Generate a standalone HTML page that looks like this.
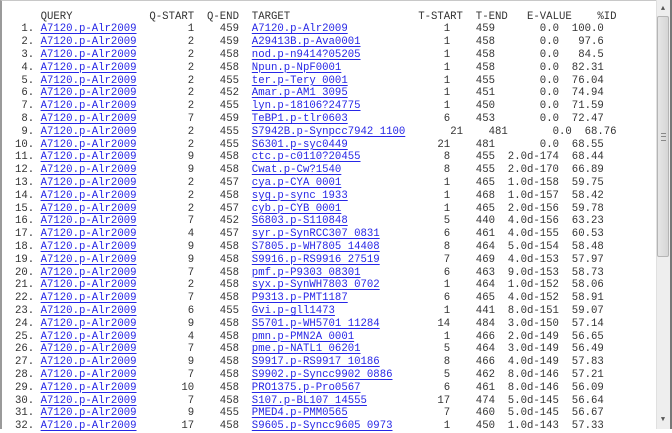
<!DOCTYPE html>
<html><head><meta charset="utf-8">
<style>
html,body{margin:0;padding:0;}
body{width:672px;height:429px;overflow:hidden;background:#fff;position:relative;font-family:"Liberation Mono",monospace;font-size:10.67px;color:#333;}
#frame{position:absolute;left:0;top:0;width:670px;height:429px;border-left:2px solid #9a9a9a;border-top:1px solid #c8c8c8;box-sizing:border-box;}
.c{position:absolute;display:block;white-space:pre;line-height:12.8px;height:12.8px;}
a.c{color:#2626e6;text-decoration:underline;text-decoration-color:#2626e6;text-underline-offset:2px;text-decoration-thickness:1px;}
#sb{position:absolute;left:656px;top:0;width:14px;height:429px;background:#eeeeee;border-left:1px solid #e0e0e0;}
#rb{position:absolute;left:670px;top:0;width:2px;height:429px;background:#777;}
#thumb{position:absolute;left:657px;top:16px;width:12px;height:241px;background:linear-gradient(90deg,#e6e6e6,#d6d6d6);border:1px solid #b5b5b5;box-sizing:border-box;border-radius:2px;}
.arr{position:absolute;left:657px;width:12px;height:14px;font-size:7px;color:#555;text-align:center;line-height:14px;}
</style></head>
<body>
<div id="frame"></div>
<div id="rows"></div>
<div id="sb"></div>
<div id="thumb"><div style="position:absolute;left:3px;top:116px;width:5px;height:6px;border-top:1px solid #888;border-bottom:1px solid #888;"><div style="margin-top:2px;border-top:1px solid #888"></div></div></div>
<div class="arr" style="top:2px">▲</div>
<div class="arr" style="top:413px">▼</div>
<div id="rb"></div>
<script>
const qstart=[1,2,2,2,2,2,2,7,2,2,9,9,2,2,2,7,4,9,9,7,2,7,6,9,4,7,9,7,10,7,9,17];
const qend=[459,459,458,458,455,452,455,459,455,455,458,458,457,458,457,452,457,458,458,458,458,458,455,458,458,458,458,458,458,458,455,458];
const targets=["A7120.p-Alr2009","A29413B.p-Ava0001","nod.p-n9414?05205","Npun.p-NpF0001","ter.p-Tery 0001","Amar.p-AM1 3095","lyn.p-18106?24775","TeBP1.p-tlr0603","S7942B.p-Synpcc7942 1100","S6301.p-syc0449","ctc.p-c0110?20455","Cwat.p-Cw?1540","cya.p-CYA 0001","syg.p-sync 1933","cyb.p-CYB 0001","S6803.p-S110848","syr.p-SynRCC307 0831","S7805.p-WH7805 14408","S9916.p-RS9916 27519","pmf.p-P9303 08301","syx.p-SynWH7803 0702","P9313.p-PMT1187","Gvi.p-gll1473","S5701.p-WH5701 11284","pmn.p-PMN2A 0001","pme.p-NATL1 06201","S9917.p-RS9917 10186","S9902.p-Syncc9902 0886","PRO1375.p-Pro0567","S107.p-BL107 14555","PMED4.p-PMM0565","S9605.p-Syncc9605 0973"];
const tstart=[1,1,1,1,1,1,1,6,21,21,8,8,1,1,1,5,6,8,7,6,1,6,1,14,1,5,8,5,6,17,7,1];
const tend=[459,458,458,458,455,451,450,453,481,481,455,455,465,468,465,440,461,464,469,463,464,465,441,484,466,464,466,462,461,474,460,450];
const evalues=["0.0","0.0","0.0","0.0","0.0","0.0","0.0","0.0","0.0","0.0","2.0d-174","2.0d-170","1.0d-158","1.0d-157","2.0d-156","4.0d-156","4.0d-155","5.0d-154","4.0d-153","9.0d-153","1.0d-152","4.0d-152","8.0d-151","3.0d-150","2.0d-149","3.0d-149","4.0d-149","8.0d-146","8.0d-146","5.0d-145","5.0d-145","1.0d-143"];
const pid=["100.0","97.6","84.5","82.31","76.04","74.94","71.59","72.47","68.76","68.55","68.44","66.89","59.75","58.42","59.78","63.23","60.53","58.48","57.97","58.73","58.06","58.91","59.07","57.14","56.65","56.49","57.83","57.21","56.09","56.64","56.67","57.33"];
const headers=[["QUERY",6],["Q-START",23],["Q-END",32],["TARGET",39],["T-START",65],["T-END",74],["E-VALUE",82],["%ID",93]];
const root=document.getElementById('rows');
const CW=6.4, X0=2.2, Y0=10.5, LH=12.8;
function cell(txt,col,row,link,right){
  const el=document.createElement(link?'a':'span');
  el.className='c';
  el.textContent=txt;
  const c=right?col-txt.length:col;
  el.style.left=(X0+c*CW)+'px';
  el.style.top=(Y0+row*LH)+'px';
  if(link){el.href='#';}
  root.appendChild(el);
  return el;
}
headers.forEach(h=>{
  const e=cell(h[0],h[1],0,false,false);
  
  
});
for(let i=0;i<targets.length;i++){
  const r=i+1;
  const sh=targets[i].length>22?2:0;
  let e=cell((i+1)+'.',5,r,false,true);
  
  
  e=cell('A7120.p-Alr2009',6,r,true,false);
  
  
  e=cell(String(qstart[i]),30,r,false,true);
  
  
  e=cell(String(qend[i]),37,r,false,true);
  
  
  e=cell(targets[i],39,r,true,false);
  
  
  e=cell(String(tstart[i]),70+sh,r,false,true);
  
  
  e=cell(String(tend[i]),74+sh,r,false,false);
  
  
  e=cell(evalues[i],87+sh,r,false,true);
  
  
  e=cell(pid[i],94+sh,r,false,true);
  
  
}
</script>
</body></html>
